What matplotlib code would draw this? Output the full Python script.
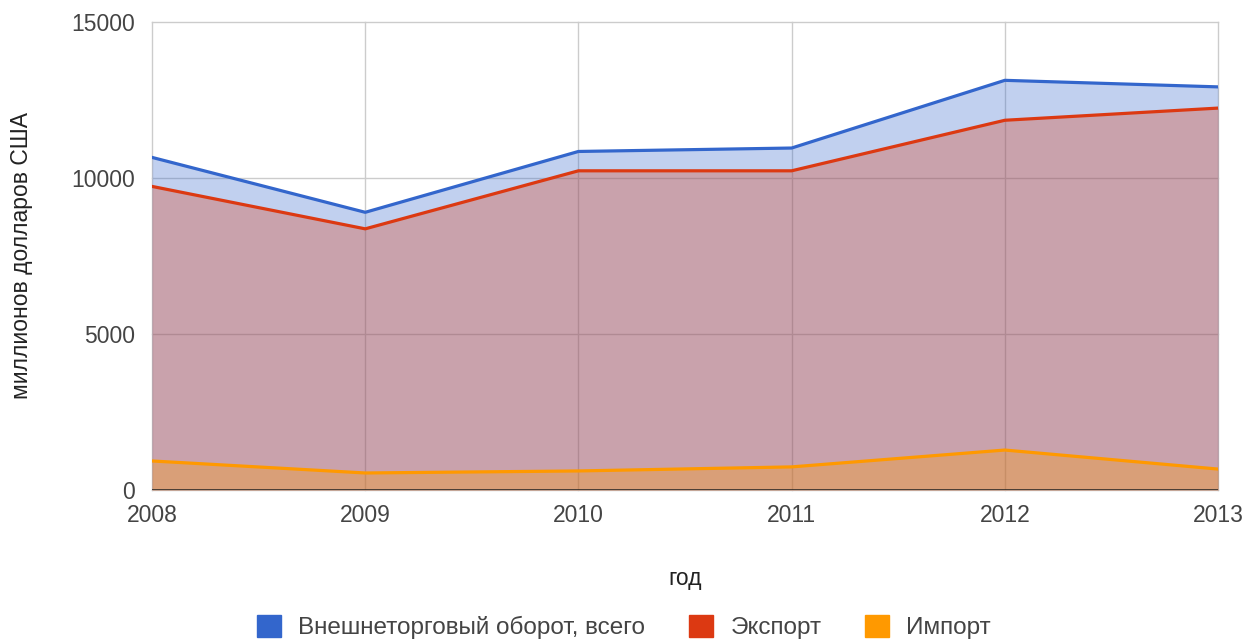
import matplotlib.pyplot as plt
from matplotlib.patches import Patch

plt.rcParams['font.family'] = ['Liberation Sans', 'DejaVu Sans']

years = [2008, 2009, 2010, 2011, 2012, 2013]
total = [10660, 8900, 10850, 10960, 13130, 12920]
export = [9730, 8370, 10230, 10230, 11850, 12240]
imports = [930, 545, 610, 740, 1280, 670]

names = ["Внешнеторговый оборот, всего", "Экспорт", "Импорт"]
colors = ["#3366cc", "#dc3912", "#ff9900"]
yticks = [0, 5000, 10000, 15000]

fig = plt.figure(figsize=(12.48, 6.41), dpi=100)
ax = fig.add_axes([0.1218, 0.2356, 0.8542, 0.7301])

for vals, c in zip([total, export, imports], colors):
    ax.fill_between(years, 0, vals, color=c, alpha=0.3, lw=0, zorder=2)
    ax.plot(years, vals, color=c, lw=2.3, solid_joinstyle='round', zorder=3)

ax.set_xlim(years[0], years[-1])
ax.set_ylim(0, 15000)
ax.set_xticks(years)
ax.set_yticks(yticks)
ax.grid(True, color="#cccccc", lw=1, zorder=1)
ax.set_axisbelow(True)
for gl in ax.get_xgridlines() + ax.get_ygridlines():
    gl.set_clip_on(False)
for s in ax.spines.values():
    s.set_visible(False)
ax.axhline(0, color="#222222", lw=1.8, zorder=4)
ax.tick_params(length=0, labelsize=16.5, labelcolor="#444444")
ax.tick_params(axis='x', pad=10)
ax.tick_params(axis='y', pad=12)

ax.set_xlabel("год", fontsize=16.5, color="#222222", labelpad=29)
ax.set_ylabel("миллионов долларов США", fontsize=16.5, color="#222222", labelpad=28)

handles = [Patch(facecolor=c, edgecolor=c) for c in colors]
fig.legend(handles, names, loc='center', bbox_to_anchor=(0.5, 0.022), ncol=3,
           frameon=False, fontsize=17.5, handlelength=1.0, handleheight=1.0,
           columnspacing=1.8, handletextpad=0.7, labelcolor="#444444")

fig.savefig("out.png", dpi=100)
